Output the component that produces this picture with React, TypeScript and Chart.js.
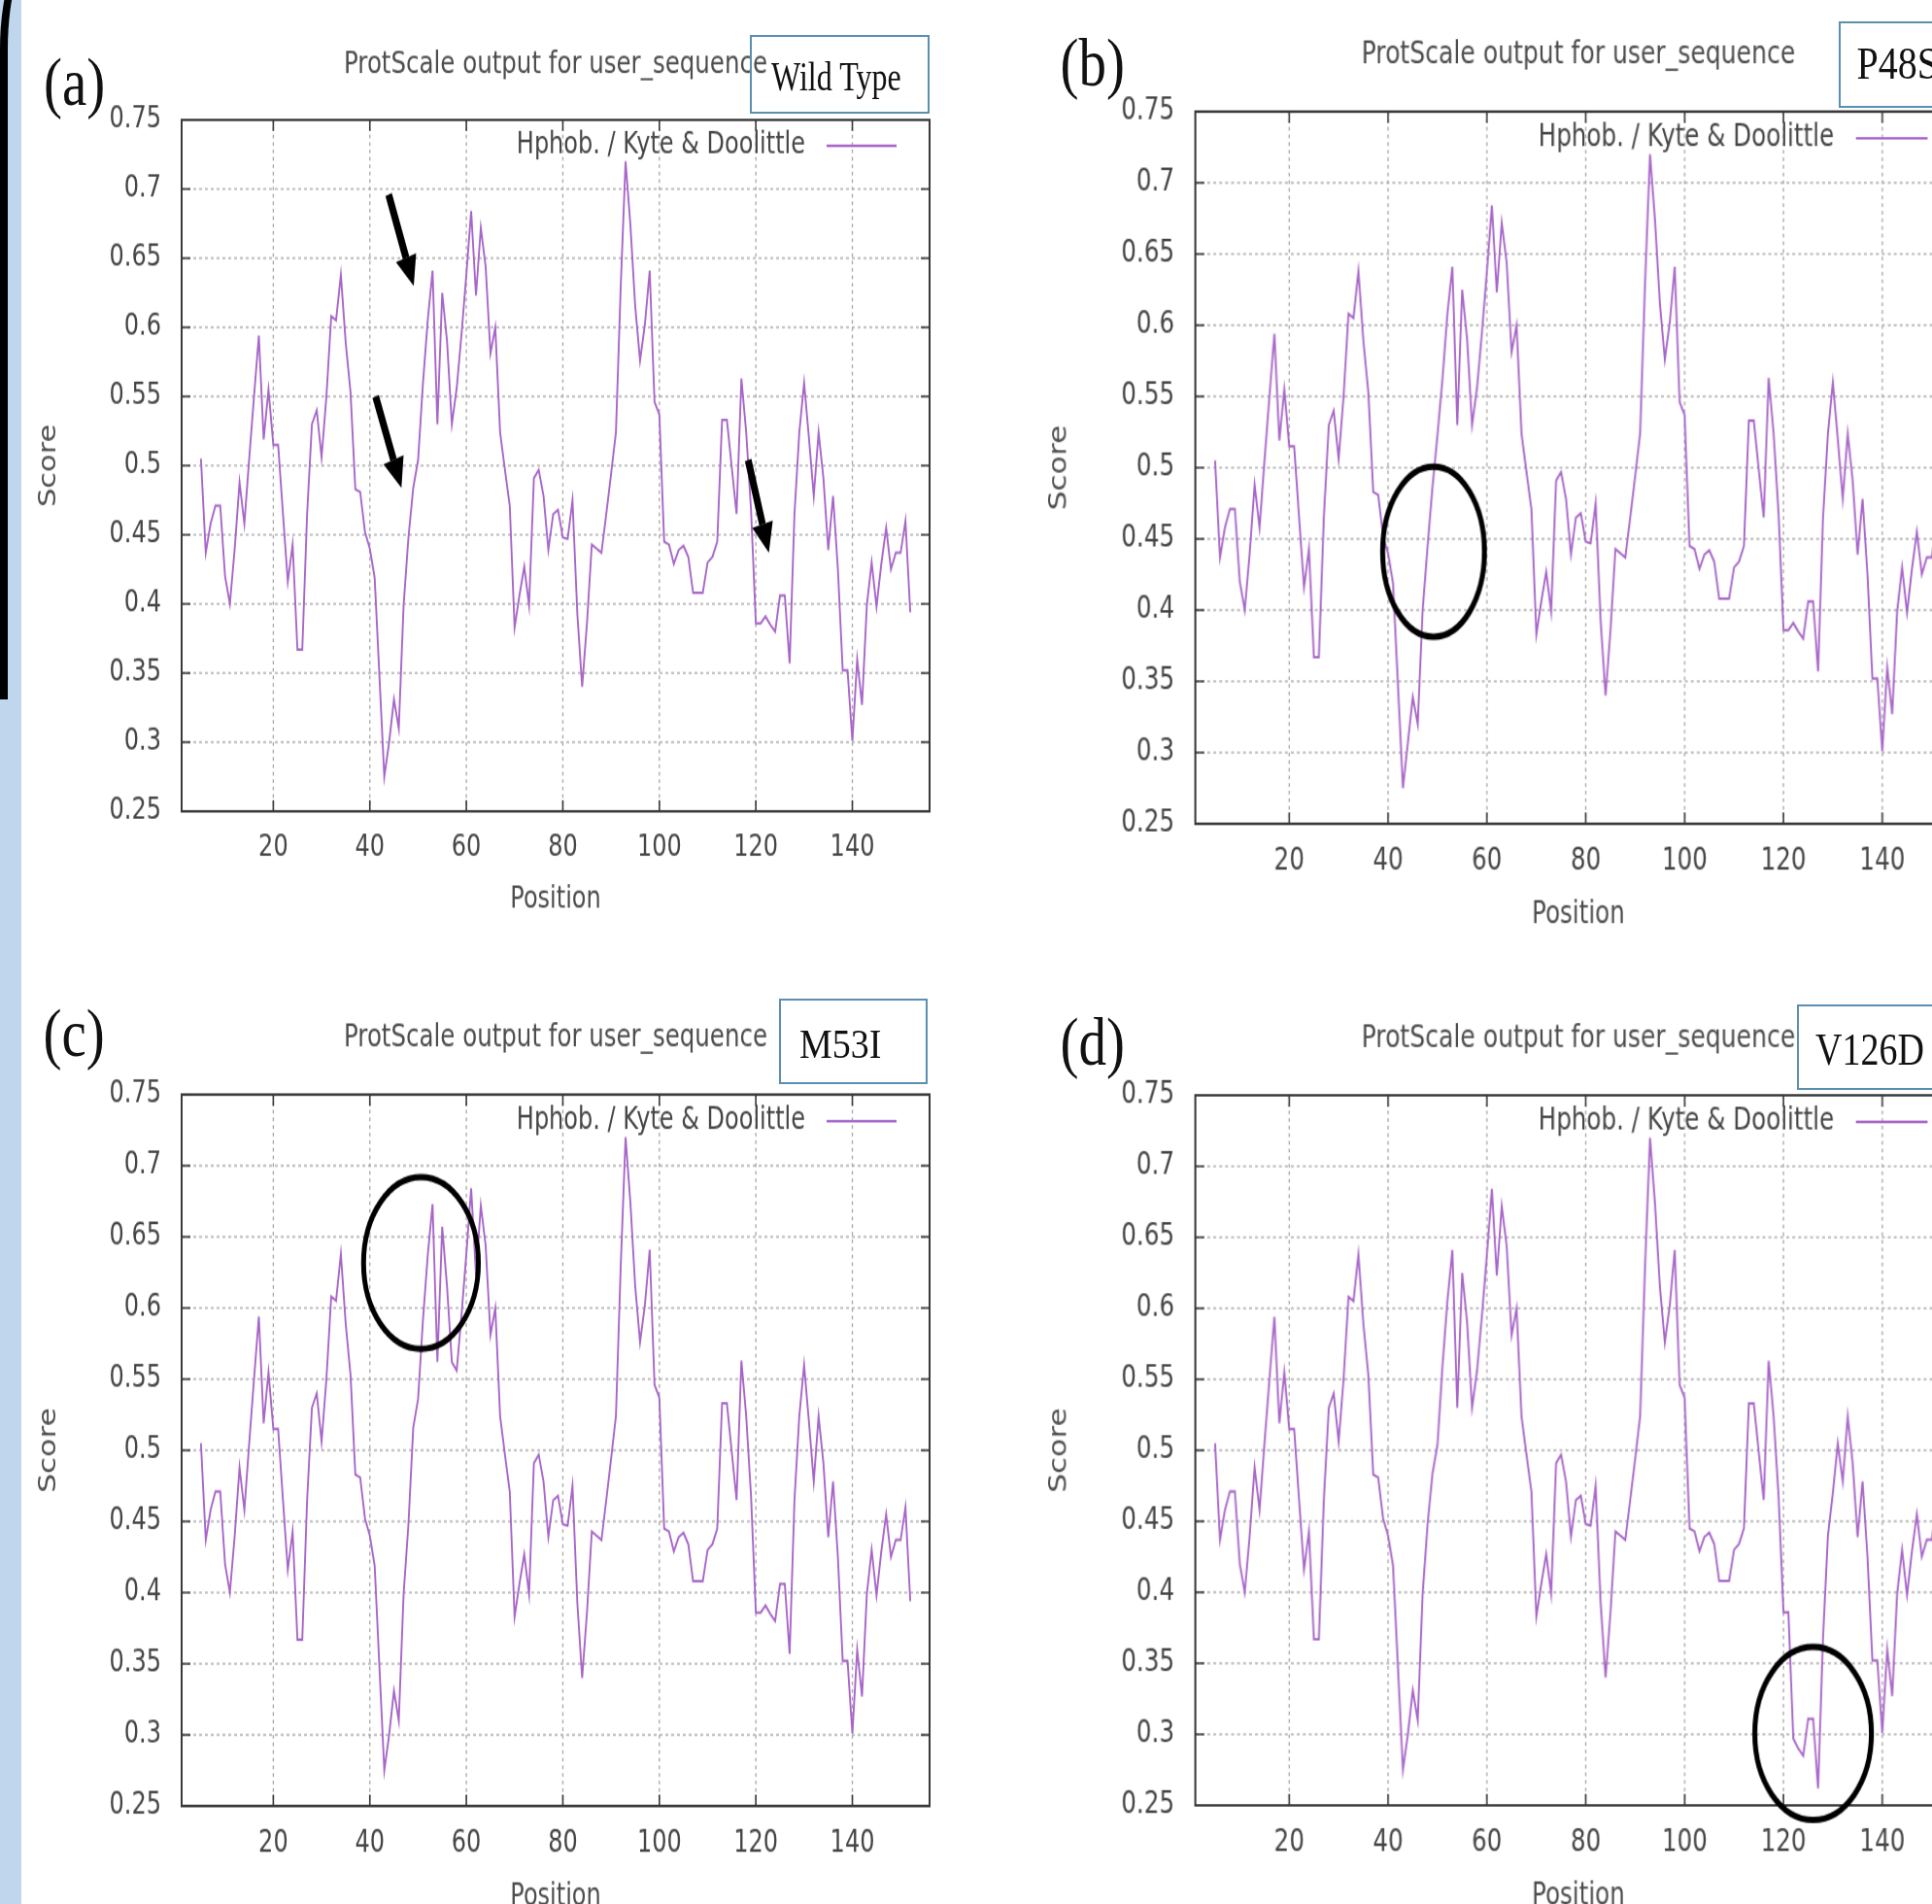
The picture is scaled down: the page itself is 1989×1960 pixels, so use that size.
import React, { useEffect, useRef } from 'react';
import { Chart, registerables } from 'chart.js';

Chart.register(...registerables);

// ---------------- data ----------------
const POSITIONS = [
  5, 6, 7, 8, 9, 10, 11, 12, 13, 14,
  15, 16, 17, 18, 19, 20, 21, 22, 23, 24,
  25, 26, 27, 28, 29, 30, 31, 32, 33, 34,
  35, 36, 37, 38, 39, 40, 41, 42, 43, 44,
  45, 46, 47, 48, 49, 50, 51, 52, 53, 54,
  55, 56, 57, 58, 59, 60, 61, 62, 63, 64,
  65, 66, 67, 68, 69, 70, 71, 72, 73, 74,
  75, 76, 77, 78, 79, 80, 81, 82, 83, 84,
  85, 86, 87, 88, 89, 90, 91, 92, 93, 94,
  95, 96, 97, 98, 99, 100, 101, 102, 103, 104,
  105, 106, 107, 108, 109, 110, 111, 112, 113, 114,
  115, 116, 117, 118, 119, 120, 121, 122, 123, 124,
  125, 126, 127, 128, 129, 130, 131, 132, 133, 134,
  135, 136, 137, 138, 139, 140, 141, 142, 143, 144,
  145, 146, 147, 148, 149, 150, 151, 152,
];

const WILD_TYPE_SCORES = [
  0.505, 0.437, 0.458, 0.471, 0.471, 0.420, 0.400, 0.440, 0.488, 0.458,
  0.505, 0.550, 0.594, 0.519, 0.555, 0.515, 0.515, 0.465, 0.416, 0.443,
  0.367, 0.367, 0.465, 0.530, 0.540, 0.506, 0.550, 0.608, 0.605, 0.638,
  0.589, 0.553, 0.483, 0.481, 0.452, 0.440, 0.419, 0.347, 0.275, 0.300,
  0.331, 0.310, 0.399, 0.448, 0.484, 0.504, 0.559, 0.605, 0.641, 0.530,
  0.625, 0.590, 0.530, 0.556, 0.595, 0.638, 0.684, 0.623, 0.672, 0.644,
  0.581, 0.600, 0.524, 0.497, 0.471, 0.383, 0.406, 0.427, 0.399, 0.491,
  0.497, 0.478, 0.439, 0.465, 0.468, 0.448, 0.447, 0.475, 0.393, 0.340,
  0.386, 0.443, 0.440, 0.437, 0.465, 0.494, 0.524, 0.630, 0.720, 0.674,
  0.615, 0.576, 0.602, 0.641, 0.546, 0.537, 0.445, 0.443, 0.429, 0.439,
  0.442, 0.434, 0.408, 0.408, 0.408, 0.430, 0.434, 0.445, 0.533, 0.533,
  0.499, 0.465, 0.563, 0.524, 0.468, 0.386, 0.386, 0.391, 0.385, 0.380,
  0.406, 0.406, 0.357, 0.465, 0.524, 0.560, 0.520, 0.478, 0.524, 0.491,
  0.439, 0.478, 0.425, 0.352, 0.352, 0.301, 0.360, 0.327, 0.399, 0.430,
  0.398, 0.429, 0.455, 0.425, 0.437, 0.437, 0.460, 0.394,
];

// mutant profiles: [position, score] where they differ from the wild type
const P48S_CHANGES = [
  [44, 0.307], [45, 0.339], [46, 0.320], [47, 0.400], [48, 0.445],
  [49, 0.487], [50, 0.523], [51, 0.562], [52, 0.608],
];
const M53I_CHANGES = [
  [49, 0.516], [50, 0.536], [51, 0.591], [52, 0.637], [53, 0.673],
  [54, 0.562], [55, 0.657], [56, 0.615], [57, 0.562],
];
const V126D_CHANGES = [
  [122, 0.297], [123, 0.290], [124, 0.285], [125, 0.311], [126, 0.311],
  [127, 0.262], [128, 0.368], [129, 0.440], [130, 0.470], [131, 0.505],
];

const X_TICKS = [20, 40, 60, 80, 100, 120, 140];
const Y_TICKS = [0.25, 0.3, 0.35, 0.4, 0.45, 0.5, 0.55, 0.6, 0.65, 0.7, 0.75];
const X_RANGE = [1, 156];
const Y_RANGE = [0.25, 0.75];

const TITLE = 'ProtScale output for user_sequence';
const LEGEND_LABEL = 'Hphob. / Kyte & Doolittle';
const X_TITLE = 'Position';
const Y_TITLE = 'Score';

// annotations in data units: arrows [x0, y0, x1(tip), y1(tip)], ellipses [cx, cy, rx, ry]
const WT_ARROWS = [
  [43.9, 0.696, 49.1, 0.630],
  [41.2, 0.550, 46.55, 0.484],
  [118.4, 0.504, 122.7, 0.437],
];
const P48S_CIRCLE = [49.2, 0.441, 10.3, 0.0597];
const M53I_CIRCLE = [50.6, 0.6316, 11.9, 0.0604];
const V126D_CIRCLE = [126.0, 0.3006, 11.8, 0.0609];

// ---------------- styling ----------------
const FONT = '"DejaVu Sans", sans-serif';
const SERIF = '"Liberation Serif", "Times New Roman", serif';
const LINE_COLOR = '#a866c9';
const TEXT_COLOR = '#454545';
const GRID_COLOR = '#a8a8a8';
const FRAME_COLOR = '#3a3a3a';
const BOX_COLOR = '#5b8fb0';

// internal canvas geometry (canvas px)
const CW = 990;
const CH = 760;
const PL = 188;
const PR = 958;
const PT = 90;
const PH = 560;

function buildScores(changes) {
  const s = WILD_TYPE_SCORES.slice();
  for (const [pos, val] of changes) {
    const i = POSITIONS.indexOf(pos);
    if (i >= 0) s[i] = val;
  }
  return s;
}

const PANELS = [
  {
    id: 'a', label: '(a)', tag: 'Wild Type', scores: buildScores([]),
    arrows: WT_ARROWS, ellipse: null,
    cssLeft: -0.8, cssTop: 123.2 - PT * (711.6 / PH), hx: 1, vy: 711.6 / PH,
    box: { left: 772, top: 36, width: 185, height: 81 },
    tagText: { left: 794, baseline: 92.5, size: 32, k: 1.35 },
    labelPos: { left: 45, baseline: 107.5 },
  },
  {
    id: 'b', label: '(b)', tag: 'P48S', scores: buildScores(P48S_CHANGES),
    arrows: [], ellipse: P48S_CIRCLE,
    cssLeft: 1230.3 - PL * 1.0247, cssTop: 115 - PT * (733 / PH), hx: 1.0247, vy: 733 / PH,
    box: { left: 1893, top: 22, width: 200, height: 89 },
    tagText: { left: 1911.5, baseline: 81, size: 40, k: 1.15 },
    labelPos: { left: 1091.5, baseline: 87.5 },
  },
  {
    id: 'c', label: '(c)', tag: 'M53I', scores: buildScores(M53I_CHANGES),
    arrows: [], ellipse: M53I_CIRCLE,
    cssLeft: -0.8, cssTop: 1126.5 - PT * (732.5 / PH), hx: 1, vy: 732.5 / PH,
    box: { left: 802, top: 1027.5, width: 153, height: 88.5 },
    tagText: { left: 823, baseline: 1089, size: 38, k: 1.12 },
    labelPos: { left: 44.6, baseline: 1086.5 },
  },
  {
    id: 'd', label: '(d)', tag: 'V126D', scores: buildScores(V126D_CHANGES),
    arrows: [], ellipse: V126D_CIRCLE,
    cssLeft: 1230.3 - PL * 1.0247, cssTop: 1127 - PT * (731 / PH), hx: 1.0247, vy: 731 / PH,
    box: { left: 1850, top: 1034, width: 200, height: 88 },
    tagText: { left: 1869, baseline: 1095.6, size: 38, k: 1.2 },
    labelPos: { left: 1091.5, baseline: 1095.5 },
  },
];

function decorPlugin(panel) {
  return {
    id: 'protscaleDecor' + panel.id,
    beforeDatasetsDraw(chart) {
      const { ctx, chartArea: a, scales } = chart;
      const x = scales.x;
      const y = scales.y;
      ctx.save();
      ctx.strokeStyle = GRID_COLOR;
      ctx.lineWidth = 1.3;
      ctx.setLineDash([3, 3]);
      for (const v of X_TICKS) {
        const px = x.getPixelForValue(v);
        ctx.beginPath();
        ctx.moveTo(px, a.top);
        ctx.lineTo(px, a.bottom);
        ctx.stroke();
      }
      for (const v of Y_TICKS) {
        if (v <= Y_RANGE[0] || v >= Y_RANGE[1]) continue;
        const py = y.getPixelForValue(v);
        ctx.beginPath();
        ctx.moveTo(a.left, py);
        ctx.lineTo(a.right, py);
        ctx.stroke();
      }
      ctx.restore();
    },
    afterDatasetsDraw(chart) {
      const { ctx, chartArea: a, scales } = chart;
      const x = scales.x;
      const y = scales.y;
      ctx.save();
      // frame
      ctx.setLineDash([]);
      ctx.strokeStyle = FRAME_COLOR;
      ctx.lineWidth = 2;
      ctx.strokeRect(a.left, a.top, a.right - a.left, a.bottom - a.top);
      // inward tick marks on all four sides
      ctx.lineWidth = 1.6;
      const tl = 9;
      for (const v of X_TICKS) {
        const px = x.getPixelForValue(v);
        ctx.beginPath();
        ctx.moveTo(px, a.bottom); ctx.lineTo(px, a.bottom - tl);
        ctx.moveTo(px, a.top); ctx.lineTo(px, a.top + tl);
        ctx.stroke();
      }
      for (const v of Y_TICKS) {
        const py = y.getPixelForValue(v);
        ctx.beginPath();
        ctx.moveTo(a.left, py); ctx.lineTo(a.left + tl, py);
        ctx.moveTo(a.right, py); ctx.lineTo(a.right - tl, py);
        ctx.stroke();
      }
      // key
      ctx.font = '24px ' + FONT;
      ctx.fillStyle = TEXT_COLOR;
      ctx.textAlign = 'right';
      ctx.textBaseline = 'middle';
      const ky = a.top + 21;
      ctx.fillText(LEGEND_LABEL, a.right - 128, ky);
      ctx.strokeStyle = LINE_COLOR;
      ctx.lineWidth = 2;
      ctx.beginPath();
      ctx.moveTo(a.right - 106, ky);
      ctx.lineTo(a.right - 34, ky);
      ctx.stroke();
      // title
      ctx.fillStyle = '#4d4d4d';
      ctx.textAlign = 'center';
      ctx.font = '24.5px ' + FONT;
      ctx.fillText(TITLE, (a.left + a.right) / 2, a.top - 44.5);
      // axis titles
      ctx.font = '24px ' + FONT;
      ctx.fillText(X_TITLE, (a.left + a.right) / 2, a.bottom + 72);
      ctx.save();
      ctx.translate(a.left - 136, (a.top + a.bottom) / 2);
      ctx.rotate(-Math.PI / 2);
      ctx.fillText(Y_TITLE, 0, 0);
      ctx.restore();
      // annotations
      ctx.fillStyle = '#000';
      ctx.strokeStyle = '#000';
      for (const [x0, y0, x1, y1] of panel.arrows) {
        const ax = x.getPixelForValue(x0), ay = y.getPixelForValue(y0);
        const bx = x.getPixelForValue(x1), by = y.getPixelForValue(y1);
        const ang = Math.atan2(by - ay, bx - ax);
        const hl = 24, hw = 11;
        const sx = bx - hl * Math.cos(ang), sy = by - hl * Math.sin(ang);
        ctx.lineWidth = 7;
        ctx.lineCap = 'butt';
        ctx.beginPath();
        ctx.moveTo(ax, ay);
        ctx.lineTo(sx, sy);
        ctx.stroke();
        ctx.beginPath();
        ctx.moveTo(bx, by);
        ctx.lineTo(sx + hw * Math.sin(ang), sy - hw * Math.cos(ang));
        ctx.lineTo(sx - hw * Math.sin(ang), sy + hw * Math.cos(ang));
        ctx.closePath();
        ctx.fill();
      }
      if (panel.ellipse) {
        const [cx, cy, rx, ry] = panel.ellipse;
        const px = x.getPixelForValue(cx), py = y.getPixelForValue(cy);
        const prx = Math.abs(x.getPixelForValue(cx + rx) - px);
        const pry = Math.abs(y.getPixelForValue(cy + ry) - py);
        ctx.lineWidth = 5;
        ctx.beginPath();
        ctx.ellipse(px, py, prx, pry, 0, 0, Math.PI * 2);
        ctx.stroke();
      }
      ctx.restore();
    },
  };
}

function ProtScalePanel({ panel }) {
  const ref = useRef(null);
  useEffect(() => {
    const canvas = ref.current;
    if (!canvas) return;
    const tickFont = { family: FONT, size: 24 };
    const chart = new Chart(canvas, {
      type: 'line',
      data: {
        datasets: [
          {
            label: LEGEND_LABEL,
            data: POSITIONS.map((p, i) => ({ x: p, y: panel.scores[i] })),
            borderColor: LINE_COLOR,
            borderWidth: 1.9,
            pointRadius: 0,
            tension: 0,
            fill: false,
          },
        ],
      },
      options: {
        animation: false,
        responsive: false,
        devicePixelRatio: 1,
        events: [],
        layout: { padding: { left: 0, right: CW - PR, top: PT, bottom: 0 } },
        plugins: { legend: { display: false }, title: { display: false }, tooltip: { enabled: false } },
        scales: {
          x: {
            type: 'linear',
            min: X_RANGE[0],
            max: X_RANGE[1],
            afterBuildTicks: (s) => { s.ticks = X_TICKS.map((v) => ({ value: v })); },
            afterFit: (s) => { s.height = CH - PT - PH; },
            grid: { display: false, drawTicks: false, tickLength: 0 },
            border: { display: false },
            ticks: { font: tickFont, color: TEXT_COLOR, padding: 15, maxRotation: 0, autoSkip: false, callback: (v) => String(v) },
          },
          y: {
            type: 'linear',
            min: Y_RANGE[0],
            max: Y_RANGE[1],
            afterBuildTicks: (s) => { s.ticks = Y_TICKS.map((v) => ({ value: v })); },
            afterFit: (s) => { s.width = PL; },
            grid: { display: false, drawTicks: false, tickLength: 0 },
            border: { display: false },
            ticks: { font: tickFont, color: TEXT_COLOR, padding: 21, autoSkip: false, callback: (v) => String(v) },
          },
        },
      },
      plugins: [decorPlugin(panel)],
    });
    return () => chart.destroy();
  }, [panel]);
  return (
    <canvas
      ref={ref}
      width={CW}
      height={CH}
      style={{
        position: 'absolute',
        left: panel.cssLeft + 'px',
        top: panel.cssTop + 'px',
        width: CW * panel.hx + 'px',
        height: CH * panel.vy + 'px',
      }}
    />
  );
}

function SerifText({ text, left, baseline, size, k }) {
  const asc = 0.8375 * size;
  return (
    <div
      style={{
        position: 'absolute',
        left: left + 'px',
        top: baseline - asc + 'px',
        fontFamily: SERIF,
        fontSize: size + 'px',
        lineHeight: size + 'px',
        color: '#111',
        whiteSpace: 'pre',
        transform: `scaleY(${k})`,
        transformOrigin: `0 ${asc}px`,
      }}
    >
      {text}
    </div>
  );
}

export default function App() {
  return (
    <div
      style={{
        position: 'fixed',
        left: 0,
        top: 0,
        width: '1989px',
        height: '1960px',
        overflow: 'hidden',
        background: '#ffffff',
      }}
    >
      <div style={{ position: 'absolute', left: 0, top: 0, width: '22px', height: '1960px', background: '#bfd6ec' }} />
      <div
        style={{
          position: 'absolute',
          left: 0,
          top: '-60px',
          width: '200px',
          height: '780px',
          borderLeft: '8px solid #000',
          borderTop: '8px solid #000',
          borderTopLeftRadius: '40px 110px',
          boxSizing: 'border-box',
        }}
      />
      {PANELS.map((p) => (
        <ProtScalePanel key={p.id} panel={p} />
      ))}
      {PANELS.map((p) => (
        <React.Fragment key={'t' + p.id}>
          <div
            style={{
              position: 'absolute',
              left: p.box.left + 'px',
              top: p.box.top + 'px',
              width: p.box.width + 'px',
              height: p.box.height + 'px',
              border: '2px solid ' + BOX_COLOR,
              boxSizing: 'border-box',
            }}
          />
          <SerifText text={p.tag} {...p.tagText} />
          <SerifText text={p.label} left={p.labelPos.left} baseline={p.labelPos.baseline} size={57} k={1.24} />
        </React.Fragment>
      ))}
    </div>
  );
}
